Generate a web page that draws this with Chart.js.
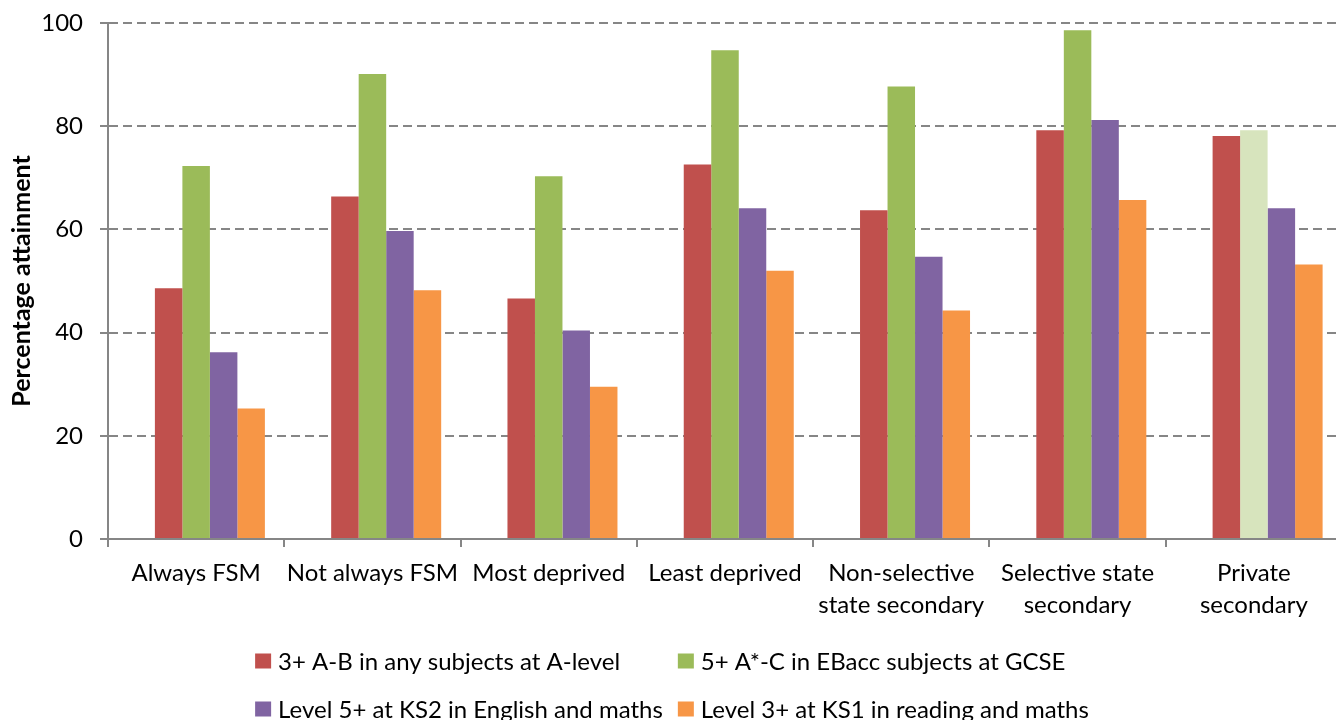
<!DOCTYPE html>
<html><head><meta charset="utf-8">
<script src="https://cdn.jsdelivr.net/npm/chart.js@4.4.0/dist/chart.umd.min.js"></script>
<style>html,body{margin:0;padding:0;overflow:hidden;background:#fff}#wrap{width:1344px;height:720px}canvas{display:block}</style>
</head><body><div id="wrap"><canvas id="c" width="1344" height="720"></canvas></div>
<script>
const categories = ['Always FSM', 'Not always FSM', 'Most deprived', 'Least deprived',
  ['Non-selective', 'state secondary'], ['Selective state', 'secondary'], ['Private', 'secondary']];
const seriesNames = ['3+ A-B in any subjects at A-level', '5+ A*-C in EBacc subjects at GCSE',
  'Level 5+ at KS2 in English and maths', 'Level 3+ at KS1 in reading and maths'];
const aLevel = [48.6, 66.4, 46.6, 72.6, 63.7, 79.2, 78.1];
const ebacc  = [72.3, 90.1, 70.3, 94.7, 87.7, 98.6, 79.2];
const ks2    = [36.2, 59.7, 40.4, 64.1, 54.7, 81.2, 64.1];
const ks1    = [25.3, 48.2, 29.5, 52.0, 44.3, 65.7, 53.2];
const spacer = [null, null, null, null, null, null, null];
const yTicks = [0, 20, 40, 60, 80, 100];

const FONT = 'Lato';
const FS = 24;
const ebaccColors = ebacc.map((v, i) => i === ebacc.length - 1 ? '#D7E4BD' : '#9BBB59');

const gridLegend = {
  id: 'gridLegend',
  afterDraw(chart) {
    const ctx = chart.ctx;
    const items = chart.data.datasets.filter(d => d.label);
    ctx.save();
    ctx.font = FS + 'px ' + FONT;
    ctx.textBaseline = 'middle';
    ctx.textAlign = 'left';
    const box = 16, boxH = 15, gapText = 7, colGap = 15, cols = 2;
    const colW = [];
    for (let c = 0; c < cols; c++) {
      let m = 0;
      items.forEach((it, i) => { if (i % cols === c) m = Math.max(m, ctx.measureText(it.label).width); });
      colW.push(box + gapText + m);
    }
    const total = colW[0] + colGap + colW[1];
    const x0 = (chart.width - total) / 2;
    const rowsY = [chart.height - 59, chart.height - 11];
    items.forEach((it, i) => {
      const c = i % cols, r = Math.floor(i / cols);
      const x = c === 0 ? x0 : x0 + colW[0] + colGap;
      const y = rowsY[r];
      const col = Array.isArray(it.backgroundColor) ? it.backgroundColor[0] : it.backgroundColor;
      ctx.fillStyle = col;
      ctx.fillRect(x, y - boxH / 2, box, boxH);
      ctx.fillStyle = '#000';
      ctx.fillText(it.label, x + box + gapText, y + 1);
    });
    ctx.restore();
  }
};

new Chart(document.getElementById('c'), {
  type: 'bar',
  data: {
    labels: categories,
    datasets: [
      { label: '', data: spacer, backgroundColor: 'rgba(0,0,0,0)' },
      { label: seriesNames[0], data: aLevel, backgroundColor: '#C0504D' },
      { label: seriesNames[1], data: ebacc, backgroundColor: ebaccColors },
      { label: seriesNames[2], data: ks2, backgroundColor: '#8064A2' },
      { label: seriesNames[3], data: ks1, backgroundColor: '#F79646' }
    ]
  },
  options: {
    responsive: false,
    animation: false,
    devicePixelRatio: 1,
    datasets: { bar: { categoryPercentage: 0.78, barPercentage: 1.0, borderWidth: 0 } },
    layout: { padding: { top: 23, right: 2, left: 0, bottom: 101 } },
    plugins: { legend: { display: false }, tooltip: { enabled: false } },
    scales: {
      x: {
        afterFit: s => { s.height = 80; s.paddingLeft = 0; s.paddingRight = 0; },
        grid: { offset: true, drawOnChartArea: false, drawTicks: true, tickLength: 8, color: '#868686', lineWidth: 2 },
        border: { color: '#868686', width: 2 },
        ticks: { color: '#000', font: { family: FONT, size: FS, lineHeight: 32 / FS }, padding: 10, maxRotation: 0, autoSkip: false }
      },
      y: {
        min: 0, max: 100,
        afterFit: s => { s.width = 108; s.paddingTop = 5; s.paddingBottom = 5; },
        afterBuildTicks: s => { s.ticks = yTicks.map(v => ({ value: v })); },
        grid: { color: '#868686', lineWidth: 2, tickLength: 8, tickBorderDash: [] },
        border: { color: '#868686', width: 2, dash: [9, 5] },
        ticks: { color: '#000', font: { family: FONT, size: FS }, padding: 17 },
        title: { display: true, text: 'Percentage attainment', color: '#000',
          font: { family: FONT, size: 25, weight: 'bold', lineHeight: 1.2 }, padding: { top: 7, bottom: 0 } }
      }
    }
  },
  plugins: [gridLegend]
});
</script>
</body></html>
